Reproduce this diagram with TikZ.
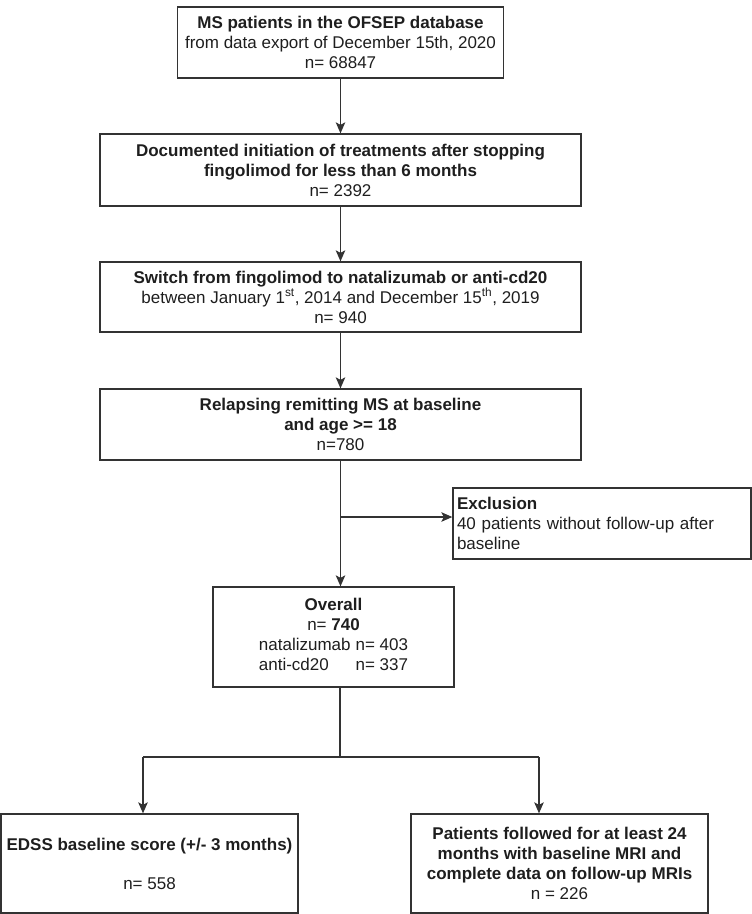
\documentclass[tikz,border=0pt]{standalone}
\usepackage{fontspec}
\setmainfont{Liberation Sans}
\usetikzlibrary{arrows.meta}
\definecolor{lc}{HTML}{333333}
\definecolor{tc}{HTML}{1E1E1E}
\begin{document}
\begin{tikzpicture}[x=1pt,y=-1pt,
  box/.style={draw=lc, line width=1.3pt, inner sep=0pt, align=center, text=tc,
    font=\fontsize{17}{20}\selectfont},
  arr/.style={draw=lc, line width=1.3pt, -{Stealth[length=11pt,width=9.5pt,inset=2.5pt]}},
  plain/.style={draw=lc, line width=1.3pt}]
\useasboundingbox (0,0) rectangle (752,914);

\node[box, minimum width=326pt, minimum height=71pt] (b1) at (340.5,42.5)
  {\textbf{MS patients in the OFSEP database}\\from data export of December 15th, 2020\\n= 68847};
\node[box, minimum width=481pt, minimum height=72pt] (b2) at (340.5,170)
  {\textbf{Documented initiation of treatments after stopping}\\\textbf{fingolimod for less than 6 months}\\n= 2392};
\node[box, minimum width=481pt, minimum height=70pt] (b3) at (340.5,297)
  {\textbf{Switch from fingolimod to natalizumab or anti-cd20}\\between January 1\textsuperscript{st}, 2014 and December 15\textsuperscript{th}, 2019\\n= 940};
\node[box, minimum width=481pt, minimum height=71pt] (b4) at (340.5,424.5)
  {\textbf{Relapsing remitting MS at baseline}\\\textbf{and age >= 18}\\n=780};
\node[box, minimum width=298pt, minimum height=71pt, text width=290pt, align=left] (ex) at (602,523.5)
  {\textbf{Exclusion}\\40 patients without follow-up after\\baseline};
\node[box, minimum width=241pt, minimum height=100pt] (ov) at (333.5,637)
  {\textbf{Overall}\\n= \textbf{740}\\\begin{tabular}[t]{@{}l@{\hspace{5pt}}r@{}}natalizumab & n= 403\\anti-cd20 & n= 337\end{tabular}};
\node[box, minimum width=297pt, minimum height=99pt] (ed) at (149.5,863.5)
  {\textbf{EDSS baseline score (+/- 3 months)}\\[19pt]n= 558};
\node[box, minimum width=297pt, minimum height=99pt] (pt) at (559.5,863.5)
  {\textbf{Patients followed for at least 24}\\\textbf{months with baseline MRI and}\\\textbf{complete data on follow-up MRIs}\\n = 226};

\draw[arr] (b1) -- (b2);
\draw[arr] (b2) -- (b3);
\draw[arr] (b3) -- (b4);
\draw[arr] (b4.south) -- (b4.south |- ov.north);
\coordinate (j1) at (340.5,517);
\draw[arr] (j1) -- (j1 -| ex.west);
\coordinate (j2) at (340,757);
\coordinate (la) at (143,757);
\coordinate (ra) at (539,757);
\draw[plain] (j2 |- ov.south) -- (j2);
\draw[plain] (la) -- (ra);
\draw[arr] (la) -- (la |- ed.north);
\draw[arr] (ra) -- (ra |- pt.north);
\end{tikzpicture}
\end{document}
